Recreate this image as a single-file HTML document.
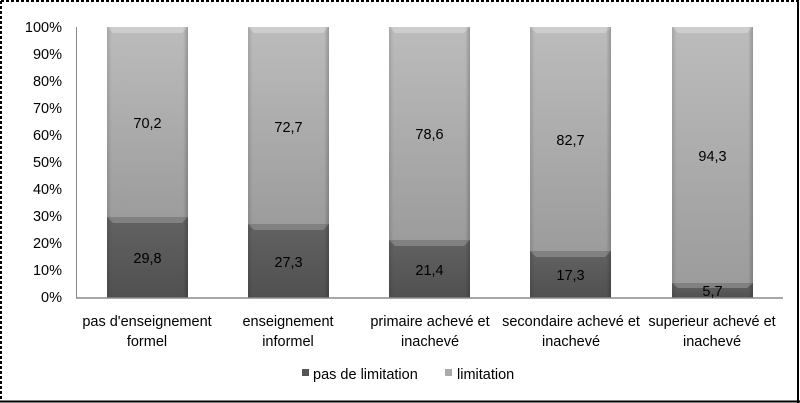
<!DOCTYPE html>
<html><head><meta charset="utf-8"><style>
html,body{margin:0;padding:0;background:#fff;}
svg{display:block;}
text{font-family:"Liberation Sans",sans-serif;fill:#000;}
</style></head><body>
<svg width="800" height="403" viewBox="0 0 800 403" xmlns="http://www.w3.org/2000/svg">
<defs>
<linearGradient id="lg" x1="0" y1="0" x2="0" y2="1">
<stop offset="0" stop-color="#bcbcbc"/><stop offset="1" stop-color="#9c9c9c"/>
</linearGradient>
<linearGradient id="dg" x1="0" y1="0" x2="0" y2="1">
<stop offset="0" stop-color="#626262"/><stop offset="1" stop-color="#505050"/>
</linearGradient>
<linearGradient id="side" x1="0" y1="0" x2="1" y2="0">
<stop offset="0" stop-color="#000" stop-opacity="0.12"/><stop offset="0.06" stop-color="#000" stop-opacity="0"/>
<stop offset="0.94" stop-color="#000" stop-opacity="0"/><stop offset="1" stop-color="#000" stop-opacity="0.2"/>
</linearGradient>
</defs>
<rect x="0" y="0" width="800" height="403" fill="#fff"/>
<line x1="1" y1="1" x2="798" y2="1" stroke="#000" stroke-width="2" stroke-dasharray="3,2"/>
<line x1="1" y1="1" x2="1" y2="402" stroke="#000" stroke-width="2" stroke-dasharray="3,2"/>
<line x1="798" y1="0" x2="798" y2="403" stroke="#000" stroke-width="2"/>
<line x1="0" y1="401.5" x2="800" y2="401.5" stroke="#000" stroke-width="2"/>

<line x1="76.5" y1="27" x2="76.5" y2="298" stroke="#8a8a8a" stroke-width="1"/>

<g font-size="14.5" text-anchor="end">
<text x="62" y="32">100%</text>
<text x="62" y="59">90%</text>
<text x="62" y="86">80%</text>
<text x="62" y="113">70%</text>
<text x="62" y="140">60%</text>
<text x="62" y="167">50%</text>
<text x="62" y="194">40%</text>
<text x="62" y="221">30%</text>
<text x="62" y="248">20%</text>
<text x="62" y="275">10%</text>
<text x="62" y="302">0%</text>
</g>

<g>
<rect x="107" y="27" width="81" height="190" fill="url(#lg)"/>
<rect x="107" y="217" width="81" height="81" fill="url(#dg)"/>
<polygon points="107,27 188,27 182,33 113,33" fill="#d4d4d4" opacity="0.7"/>
<polygon points="107,217 188,217 182,223 113,223" fill="#8a8a8a" opacity="0.8"/>
<rect x="107" y="27" width="81" height="271" fill="url(#side)"/>

<rect x="248" y="27" width="81" height="197" fill="url(#lg)"/>
<rect x="248" y="224" width="81" height="74" fill="url(#dg)"/>
<polygon points="248,27 329,27 323,33 254,33" fill="#d4d4d4" opacity="0.7"/>
<polygon points="248,224 329,224 323,230 254,230" fill="#8a8a8a" opacity="0.8"/>
<rect x="248" y="27" width="81" height="271" fill="url(#side)"/>

<rect x="389" y="27" width="81" height="213" fill="url(#lg)"/>
<rect x="389" y="240" width="81" height="58" fill="url(#dg)"/>
<polygon points="389,27 470,27 464,33 395,33" fill="#d4d4d4" opacity="0.7"/>
<polygon points="389,240 470,240 464,246 395,246" fill="#8a8a8a" opacity="0.8"/>
<rect x="389" y="27" width="81" height="271" fill="url(#side)"/>

<rect x="530" y="27" width="81" height="224" fill="url(#lg)"/>
<rect x="530" y="251" width="81" height="47" fill="url(#dg)"/>
<polygon points="530,27 611,27 605,33 536,33" fill="#d4d4d4" opacity="0.7"/>
<polygon points="530,251 611,251 605,257 536,257" fill="#8a8a8a" opacity="0.8"/>
<rect x="530" y="27" width="81" height="271" fill="url(#side)"/>

<rect x="672" y="27" width="81" height="256" fill="url(#lg)"/>
<rect x="672" y="283" width="81" height="15" fill="url(#dg)"/>
<polygon points="672,27 753,27 747,33 678,33" fill="#d4d4d4" opacity="0.7"/>
<polygon points="672,283 753,283 747,288 678,288" fill="#8a8a8a" opacity="0.8"/>
<rect x="672" y="27" width="81" height="271" fill="url(#side)"/>
</g>

<line x1="76" y1="298" x2="783" y2="298" stroke="#8a8a8a" stroke-width="1.5"/>

<g font-size="14.5" text-anchor="middle">
<text x="147.5" y="128">70,2</text>
<text x="147.5" y="263">29,8</text>
<text x="288.5" y="132">72,7</text>
<text x="288.5" y="267">27,3</text>
<text x="429.5" y="139">78,6</text>
<text x="429.5" y="275">21,4</text>
<text x="570.5" y="145">82,7</text>
<text x="570.5" y="280">17,3</text>
<text x="712.5" y="161">94,3</text>
<text x="712.5" y="296">5,7</text>
</g>

<g font-size="14.5" text-anchor="middle">
<text x="147" y="326">pas d'enseignement</text>
<text x="147" y="346">formel</text>
<text x="288" y="326">enseignement</text>
<text x="288" y="346">informel</text>
<text x="430" y="326">primaire achevé et</text>
<text x="430" y="346">inachevé</text>
<text x="571" y="326">secondaire achevé et</text>
<text x="571" y="346">inachevé</text>
<text x="712" y="326">superieur achevé et</text>
<text x="712" y="346">inachevé</text>
</g>

<rect x="302" y="369" width="7" height="7" fill="#555"/>
<text x="313" y="379" font-size="14.5">pas de limitation</text>
<rect x="445" y="369" width="7" height="7" fill="#aaa"/>
<text x="457" y="379" font-size="14.5">limitation</text>
</svg>
</body></html>
